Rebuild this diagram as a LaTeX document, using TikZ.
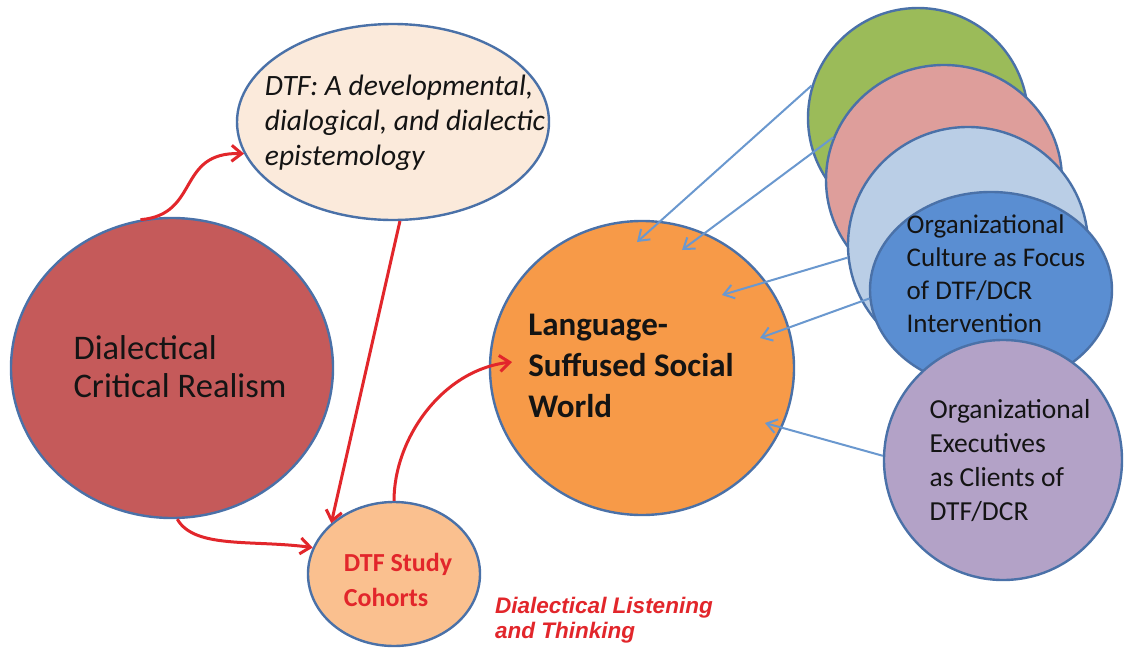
\documentclass[tikz,border=0pt]{standalone}
\usepackage{fontspec}
\setmainfont{Carlito}
\newfontfamily\arialfont{Liberation Sans}
\usetikzlibrary{arrows.meta,shapes.geometric}
\definecolor{edge}{HTML}{4A71A8}
\definecolor{dtfc}{HTML}{FBEADB}
\definecolor{dcrc}{HTML}{C55A5A}
\definecolor{orc}{HTML}{F79A48}
\definecolor{cohc}{HTML}{FAC08F}
\definecolor{grc}{HTML}{9BBB59}
\definecolor{pkc}{HTML}{DE9E9B}
\definecolor{lbc}{HTML}{BACEE6}
\definecolor{blc}{HTML}{5A8ED2}
\definecolor{puc}{HTML}{B3A2C7}
\definecolor{redc}{HTML}{E2262B}
\definecolor{arrc}{HTML}{6A98CF}
\definecolor{txt}{HTML}{141414}
\begin{document}
\begin{tikzpicture}[x=1pt,y=-1pt,
  bub/.style={ellipse, draw=edge, line width=2.4pt, inner sep=0pt},
  lbl/.style={align=left, text=txt, inner sep=0pt},
  redarrow/.style={draw=redc, line width=3pt, -{Straight Barb[length=10pt,width=16pt,line width=3pt]}},
  bluearrow/.style={draw=arrc, line width=2pt, -{Straight Barb[length=10pt,width=14pt,line width=2pt]}}]
\useasboundingbox (0,0) rectangle (1130,648);
\fill[white] (0,0) rectangle (1130,648);

% right cluster
\node[bub, fill=grc, minimum width=220, minimum height=220] (gr) at (918,118) {};
\node[bub, fill=pkc, minimum width=236, minimum height=230] (pk) at (944,180) {};
\node[bub, fill=lbc, minimum width=240, minimum height=236] (lb) at (968,245) {};
\node[bub, fill=blc, minimum width=242, minimum height=196] (bl) at (991,290) {};
\node[bub, fill=puc, minimum width=238, minimum height=240] (pu) at (1003,460) {};
\node[lbl, font=\fontsize{27}{33}\selectfont] (blt) at (996,274) {Organizational\\Culture as Focus\\of DTF/DCR\\Intervention};
\node[lbl, font=\fontsize{27.5}{34}\selectfont] (put) at (1010,461) {Organizational\\Executives\\as Clients of\\DTF/DCR};

% main bubbles
\node[bub, fill=dtfc, minimum width=312, minimum height=196] (dtf) at (393,122) {};
\node[lbl, font=\itshape\fontsize{29.5}{35}\selectfont] (dtft) at (405,123) {DTF: A developmental,\\dialogical, and dialectic\\epistemology};
\node[bub, fill=dcrc, minimum width=322, minimum height=300] (dcr) at (172,368) {};
\node[lbl, font=\fontsize{34.5}{38}\selectfont] (dcrt) at (180,367) {Dialectical\\Critical Realism};
\node[bub, fill=orc, minimum width=304, minimum height=294] (lsw) at (642,368) {};
\node[lbl, font=\bfseries\fontsize{33}{41}\selectfont] (lswt) at (631,366) {Language-\\Suffused Social\\World};
\node[bub, fill=cohc, minimum width=172, minimum height=144] (coh) at (394,574) {};
\node[lbl, text=redc, font=\bfseries\fontsize{26}{35}\selectfont] (coht) at (398,580) {DTF Study\\Cohorts};
\node[lbl, anchor=west, text=redc, font=\arialfont\bfseries\itshape\fontsize{22.5}{25}\selectfont] (dlt) at (495,620) {Dialectical Listening\\and Thinking};

% arrow end points inside the orange bubble
\coordinate (e1) at (637,242);
\coordinate (e2) at (682,250);
\coordinate (e3) at (722,295);
\coordinate (e4) at (760,338);
\coordinate (e5) at (765,423);
\coordinate (e6) at (512,362);

% blue arrows
\draw[bluearrow] (gr.163) -- (e1);
\draw[bluearrow] (pk.159) -- (e2);
\draw[bluearrow] (lb.186) -- (e3);
\draw[bluearrow] (bl.184) -- (e4);
\draw[bluearrow] (pu.178) -- (e5);

% red arrows
\draw[redarrow] (dcr.102) .. controls +(60,-5) and +(-68,-2) .. (dtf.192);
\draw[redarrow] (dtf.274) -- (coh.141);
\draw[redarrow] (dcr.272) .. controls +(17,30) and +(-60,-8) .. (coh.162);
\draw[redarrow] (coh.90) .. controls +(0,-62) and +(-70,8) .. (e6);
\end{tikzpicture}
\end{document}
